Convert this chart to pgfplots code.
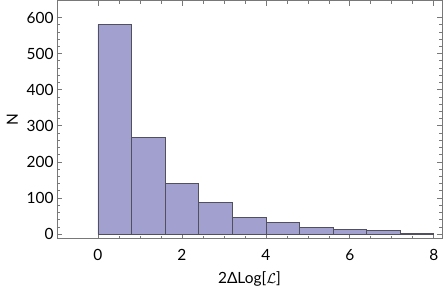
\documentclass[border=0pt]{standalone}
\usepackage{fontspec}
\setmainfont{Lato}
\usepackage{pgfplots}
\pgfplotsset{compat=1.18}
\definecolor{barfill}{RGB}{161,160,207}
\definecolor{baredge}{RGB}{80,80,95}
\definecolor{framecol}{RGB}{120,120,120}
\begin{document}
\begin{tikzpicture}
\begin{axis}[
  scale only axis,
  width=385bp, height=238bp,
  xmin=-0.975, xmax=8.195,
  ymin=-12, ymax=647,
  xtick={0,2,4,6,8},
  ytick={0,100,200,300,400,500,600},
  minor x tick num=3,
  minor y tick num=4,
  tick align=inside,
  major tick length=5bp,
  minor tick length=3bp,
  axis line style={framecol, line width=0.9bp},
  tick style={framecol, line width=0.7bp},
  every tick label/.append style={font=\fontsize{15.5}{18}\selectfont},
  /pgf/number format/assume math mode=true,
  xticklabel style={yshift=-7bp},
  yticklabel style={xshift=0bp},
  xlabel={2ΔLog[$\mathcal{L}$]},
  ylabel={N},
  xlabel style={font=\fontsize{15.5}{18}\selectfont, yshift=-4bp},
  ylabel style={font=\fontsize{15.5}{18}\selectfont, yshift=2bp},
]
\addplot[ybar interval, fill=barfill, draw=baredge, line width=0.7bp]
coordinates {(0,580) (0.8,269) (1.6,140) (2.4,87) (3.2,46) (4.0,32) (4.8,18) (5.6,12) (6.4,10) (7.2,1) (8.0,1)};
\end{axis}
\pgfresetboundingbox
\path[use as bounding box] ([shift={(-57bp,-54bp)}]current axis.south west) rectangle ([shift={(1bp,0.5bp)}]current axis.north east);
\end{tikzpicture}
\end{document}
